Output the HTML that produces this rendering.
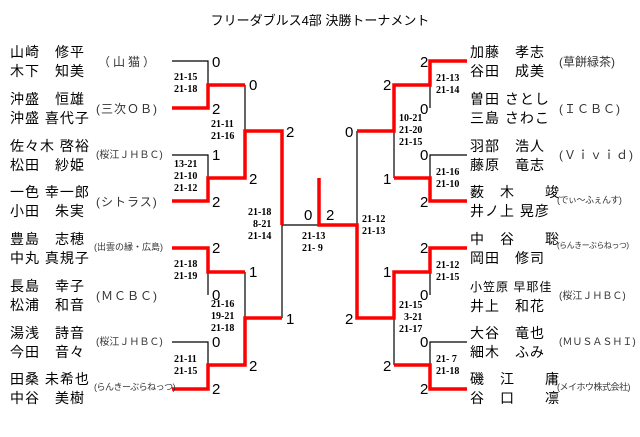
<!DOCTYPE html>
<html><head><meta charset="utf-8"><style>
body{margin:0;width:640px;height:437px;background:#fff;position:relative;overflow:hidden;font-family:"Liberation Sans","Noto Sans CJK JP",sans-serif;color:#000}
.t{position:absolute;white-space:nowrap}
.n{font-size:14px;line-height:19px;letter-spacing:1px}
.c{font-size:12px;color:#333;letter-spacing:1px}
.s{font-size:10px;line-height:12px;font-weight:bold;font-family:"Liberation Serif","Noto Serif CJK SC",serif}
.p{font-size:15px;line-height:15px}
svg{position:absolute;left:0;top:0}
</style></head><body>
<svg width="640" height="437">
<g stroke="#000" stroke-width="1.2" fill="none">
<path d="M172 61H208V108M172 155H208V201M172 248H208V295M172 342H208V389"/>
<path d="M245 85V178M245 272V365M282 131V318M282 225H320M357 131V318"/>
<path d="M467 61H430V108M467 155H430V201M467 248H430V295M467 342H430V389"/>
<path d="M394 85V178M394 272V365"/>
</g>
<g stroke="#f00" stroke-width="3.5" fill="none">
<path d="M172 108H208V85H245M172 201H208V178H245V131H282V225M172 248H208V272H245M172 389H208V365H245V318H282"/>
<path d="M319 178V225H357V318H394V272H430V248H467M467 61H430V85H394V131H357M467 201H430V178H394M467 389H430V365H394"/>
</g>
</svg>
<div class="t" style="left:0;width:640px;top:10px;text-align:center;font-size:13px">フリーダブルス4部 決勝トーナメント</div>

<div class="t n" style="left:10px;top:43px">山崎　修平<br>木下　知美</div>
<div class="t n" style="left:10px;top:90px">沖盛　恒雄<br>沖盛 喜代子</div>
<div class="t n" style="left:10px;top:137px">佐々木 啓裕<br>松田　紗姫</div>
<div class="t n" style="left:10px;top:183px">一色 幸一郎<br>小田　朱実</div>
<div class="t n" style="left:10px;top:230px">豊島　志穂<br>中丸 真規子</div>
<div class="t n" style="left:10px;top:277px">長島　幸子<br>松浦　和音</div>
<div class="t n" style="left:10px;top:324px">湯浅　詩音<br>今田　音々</div>
<div class="t n" style="left:10px;top:370px">田桑 未希也<br>中谷　美樹</div>

<div class="t c" style="left:98px;top:53px;letter-spacing:3px">（山猫）</div>
<div class="t c" style="left:96px;top:100px">(三次ＯＢ)</div>
<div class="t c" style="left:96px;top:146px;font-size:10px;letter-spacing:0">(桜江ＪＨＢＣ)</div>
<div class="t c" style="left:96px;top:193px">(シトラス)</div>
<div class="t c" style="left:94px;top:240px;font-size:9px;letter-spacing:0">(出雲の縁・広島)</div>
<div class="t c" style="left:96px;top:287px">(ＭＣＢＣ)</div>
<div class="t c" style="left:96px;top:333px;font-size:10px;letter-spacing:0">(桜江ＪＨＢＣ)</div>
<div class="t c" style="left:94px;top:380px;font-size:9px;letter-spacing:-0.5px">(らんきーぶらねっつ)</div>

<div class="t n" style="left:470px;top:43px">加藤　孝志<br>谷田　成美</div>
<div class="t n" style="left:470px;top:90px">曽田 さとし<br>三島 さわこ</div>
<div class="t n" style="left:470px;top:137px">羽部　浩人<br>藤原　竜志</div>
<div class="t n" style="left:470px;top:183px">薮　木　　竣<br>井ノ上 晃彦</div>
<div class="t n" style="left:470px;top:230px">中　谷　　聡<br>岡田　修司</div>
<div class="t n" style="left:470px;top:277px"><span style="font-size:12px">小笠原 早耶佳</span><br>井上　和花</div>
<div class="t n" style="left:470px;top:324px">大谷　竜也<br>細木　ふみ</div>
<div class="t n" style="left:470px;top:370px">磯　江　　庸<br>谷　口　　凛</div>

<div class="t c" style="left:559px;top:53px;letter-spacing:0">(草餅緑茶)</div>
<div class="t c" style="left:559px;top:100px">(ＩＣＢＣ)</div>
<div class="t c" style="left:559px;top:146px">(Ｖｉｖｉｄ)</div>
<div class="t c" style="left:557px;top:193px;font-size:9px;letter-spacing:-0.5px">(でぃ～ふぇんす)</div>
<div class="t c" style="left:557px;top:240px;font-size:8px;letter-spacing:-0.5px">(らんきーぶらねっつ)</div>
<div class="t c" style="left:559px;top:287px;font-size:10px;letter-spacing:0">(桜江ＪＨＢＣ)</div>
<div class="t c" style="left:559px;top:333px;font-size:10px;letter-spacing:0">(ＭＵＳＡＳＨＩ)</div>
<div class="t c" style="left:557px;top:380px;font-size:9px;letter-spacing:-0.5px">(メイホウ株式会社)</div>

<div class="t s" style="left:174px;top:72px">21-15<br>21-18</div>
<div class="t s" style="left:211px;top:119px">21-11<br>21-16</div>
<div class="t s" style="left:174px;top:159px">13-21<br>21-10<br>21-12</div>
<div class="t s" style="left:248px;top:207px;text-align:right">21-18<br>8-21<br>21-14</div>
<div class="t s" style="left:174px;top:259px">21-18<br>21-19</div>
<div class="t s" style="left:211px;top:299px">21-16<br>19-21<br>21-18</div>
<div class="t s" style="left:174px;top:354px">21-11<br>21-15</div>
<div class="t s" style="left:302px;top:231px">21-13<br>21- 9</div>
<div class="t s" style="left:362px;top:214px">21-12<br>21-13</div>
<div class="t s" style="left:436px;top:73px">21-13<br>21-14</div>
<div class="t s" style="left:399px;top:113px">10-21<br>21-20<br>21-15</div>
<div class="t s" style="left:436px;top:167px">21-16<br>21-10</div>
<div class="t s" style="left:436px;top:260px">21-12<br>21-15</div>
<div class="t s" style="left:399px;top:300px;text-align:right">21-15<br>3-21<br>21-17</div>
<div class="t s" style="left:436px;top:354px">21- 7<br>21-18</div>

<div class="t p" style="left:212px;top:55px">0</div>
<div class="t p" style="left:212px;top:102px">2</div>
<div class="t p" style="left:212px;top:148px">1</div>
<div class="t p" style="left:212px;top:195px">2</div>
<div class="t p" style="left:212px;top:241px">2</div>
<div class="t p" style="left:212px;top:288px">0</div>
<div class="t p" style="left:212px;top:335px">0</div>
<div class="t p" style="left:212px;top:382px">2</div>
<div class="t p" style="left:249px;top:78px">0</div>
<div class="t p" style="left:249px;top:172px">2</div>
<div class="t p" style="left:249px;top:265px">1</div>
<div class="t p" style="left:249px;top:359px">2</div>
<div class="t p" style="left:286px;top:125px">2</div>
<div class="t p" style="left:286px;top:312px">1</div>
<div class="t p" style="left:304px;top:208px">0</div>
<div class="t p" style="left:326px;top:208px">2</div>
<div class="t p" style="left:420px;top:55px">2</div>
<div class="t p" style="left:420px;top:102px">0</div>
<div class="t p" style="left:420px;top:148px">0</div>
<div class="t p" style="left:420px;top:195px">2</div>
<div class="t p" style="left:420px;top:241px">2</div>
<div class="t p" style="left:420px;top:288px">0</div>
<div class="t p" style="left:420px;top:335px">0</div>
<div class="t p" style="left:420px;top:382px">2</div>
<div class="t p" style="left:383px;top:78px">2</div>
<div class="t p" style="left:383px;top:172px">1</div>
<div class="t p" style="left:383px;top:265px">1</div>
<div class="t p" style="left:383px;top:359px">2</div>
<div class="t p" style="left:345px;top:125px">0</div>
<div class="t p" style="left:345px;top:312px">2</div>
</body></html>
